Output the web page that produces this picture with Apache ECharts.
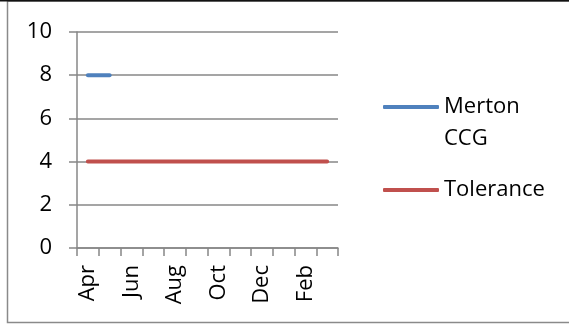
<!DOCTYPE html>
<html>
<head>
<meta charset="utf-8">
<script src="https://cdn.jsdelivr.net/npm/echarts@6/dist/echarts.min.js"></script>
<style>
  html, body { margin: 0; padding: 0; background: #fff; }
  #chart { width: 569px; height: 325px; }
</style>
</head>
<body>
<div id="chart"></div>
<script>
// Monthly categories (financial year Apr–Mar)
const months = ['Apr', 'May', 'Jun', 'Jul', 'Aug', 'Sep', 'Oct', 'Nov', 'Dec', 'Jan', 'Feb', 'Mar'];
// Series values
const mertonCCG = [8, 8, null, null, null, null, null, null, null, null, null, null];
const tolerance = [4, 4, 4, 4, 4, 4, 4, 4, 4, 4, 4, 4];
// Value axis settings
const yMin = 0, yMax = 10, yStep = 2;

const FONT = 'Open Sans';
const GRID_GREY = '#878787';

// Legend entries wrap at the space; a wrapped entry gets a blank leading
// line so that its first line stays level with the swatch.
function wrapLegendName(n) {
  return n.indexOf(' ') >= 0 ? '\n' + n.replace(' ', '\n') : n;
}

function legendFor(name, top) {
  return {
    orient: 'vertical',
    left: 378,
    top: top,
    itemWidth: 56,
    itemHeight: 4,
    icon: 'roundRect',
    data: [name],
    formatter: wrapLegendName,
    textStyle: {
      fontFamily: FONT,
      fontSize: 22,
      color: '#000',
      lineHeight: 32
    }
  };
}

const chart = echarts.init(document.getElementById('chart'), null, { renderer: 'canvas' });
chart.setOption({
  animation: false,
  backgroundColor: '#fff',
  textStyle: { fontFamily: FONT },
  graphic: [
    {
      type: 'rect',
      shape: { x: 7.5, y: 1, width: 600, height: 321.5 },
      style: { fill: 'none', stroke: '#8a8a8a', lineWidth: 1.5 },
      silent: true
    },
    {
      type: 'line',
      shape: { x1: 0, y1: 0.5, x2: 569, y2: 0.5 },
      style: { stroke: '#111', lineWidth: 2 },
      silent: true
    }
  ],
  grid: { left: 77, right: 231, top: 32, bottom: 77, containLabel: false },
  legend: [
    legendFor('Merton CCG', 54),
    legendFor('Tolerance', 169)
  ],
  xAxis: {
    type: 'category',
    data: months,
    boundaryGap: true,
    axisLine: { show: true, lineStyle: { color: GRID_GREY, width: 1.5 } },
    axisTick: { show: true, length: 8, interval: 0, alignWithLabel: false, lineStyle: { color: GRID_GREY, width: 1.5 } },
    axisLabel: { interval: 1, rotate: 90, margin: 17, fontSize: 22, color: '#000', fontFamily: FONT },
    splitLine: { show: false }
  },
  yAxis: {
    type: 'value',
    min: yMin,
    max: yMax,
    interval: yStep,
    axisLine: { show: true, lineStyle: { color: GRID_GREY, width: 1.5 } },
    axisTick: { show: true, length: 8, lineStyle: { color: GRID_GREY, width: 1.5 } },
    axisLabel: { margin: 25, fontSize: 22, color: '#000', fontFamily: FONT },
    splitLine: { show: true, lineStyle: { color: GRID_GREY, width: 1.5 } }
  },
  series: [
    {
      name: 'Merton CCG',
      type: 'line',
      data: mertonCCG,
      symbol: 'none',
      connectNulls: false,
      color: '#4F81BD',
      lineStyle: { width: 4, cap: 'round', color: '#4F81BD' }
    },
    {
      name: 'Tolerance',
      type: 'line',
      data: tolerance,
      symbol: 'none',
      color: '#C0504D',
      lineStyle: { width: 4, cap: 'round', color: '#C0504D' }
    }
  ]
});
</script>
</body>
</html>
